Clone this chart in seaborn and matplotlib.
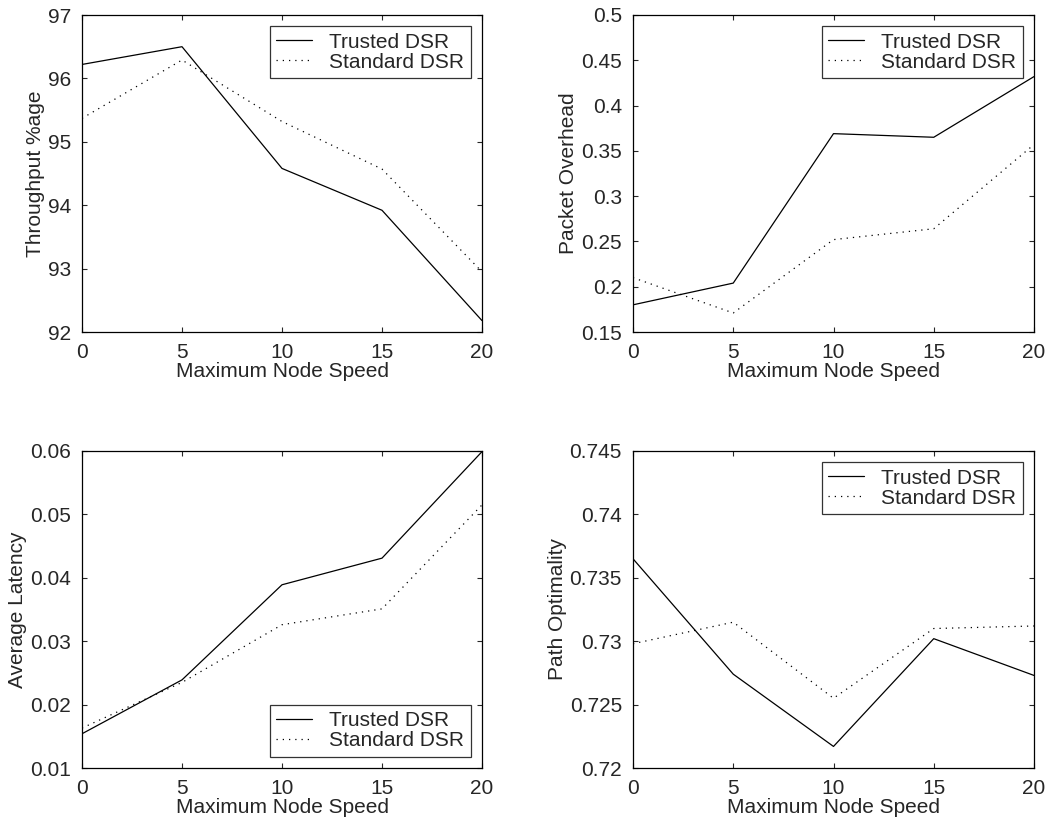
import pandas as pd
import seaborn as sns
import matplotlib.pyplot as plt

speed = [0, 5, 10, 15, 20]

throughput_trusted = [96.22, 96.5, 94.58, 93.92, 92.18]
throughput_standard = [95.37, 96.29, 95.32, 94.57, 92.95]

overhead_trusted = [0.180, 0.204, 0.369, 0.365, 0.432]
overhead_standard = [0.210, 0.171, 0.252, 0.264, 0.357]

latency_trusted = [0.0154, 0.0239, 0.0389, 0.0431, 0.0599]
latency_standard = [0.0163, 0.0235, 0.0326, 0.0351, 0.0515]

optimality_trusted = [0.7365, 0.7274, 0.7217, 0.7302, 0.7273]
optimality_standard = [0.7298, 0.7315, 0.7255, 0.7310, 0.7312]

series_names = ["Trusted DSR", "Standard DSR"]

sns.set_style("ticks")
plt.rcParams["font.family"] = ["Liberation Sans", "DejaVu Sans"]
fs = 15

fig = plt.figure(figsize=(10.52, 8.23), dpi=100)

panels = [
    # trusted, standard, ylabel, ylim, yticks, legend loc, axes rect (pixels -> fractions)
    (throughput_trusted, throughput_standard, "Throughput %age", (92, 97),
     [92, 93, 94, 95, 96, 97], "upper right",
     [82 / 1052, 1 - 332 / 823, 400 / 1052, 317 / 823]),
    (overhead_trusted, overhead_standard, "Packet Overhead", (0.15, 0.5),
     [0.15, 0.2, 0.25, 0.3, 0.35, 0.4, 0.45, 0.5], "upper right",
     [633 / 1052, 1 - 332 / 823, 401 / 1052, 317 / 823]),
    (latency_trusted, latency_standard, "Average Latency", (0.01, 0.06),
     [0.01, 0.02, 0.03, 0.04, 0.05, 0.06], "lower right",
     [82 / 1052, 1 - 768 / 823, 400 / 1052, 317 / 823]),
    (optimality_trusted, optimality_standard, "Path Optimality", (0.72, 0.745),
     [0.72, 0.725, 0.73, 0.735, 0.74, 0.745], "upper right",
     [633 / 1052, 1 - 768 / 823, 401 / 1052, 317 / 823]),
]

for trusted, standard, ylabel, ylim, yticks, loc, rect in panels:
    ax = fig.add_axes(rect)
    df = pd.DataFrame({
        "speed": speed * 2,
        "value": trusted + standard,
        "series": [series_names[0]] * 5 + [series_names[1]] * 5,
    })
    sns.lineplot(data=df, x="speed", y="value", hue="series", style="series",
                 palette=["black", "black"],
                 dashes={series_names[0]: "", series_names[1]: (1, 4)},
                 linewidth=0.9, ax=ax)
    ax.set_xlim(0, 20)
    ax.set_ylim(*ylim)
    ax.set_xticks([0, 5, 10, 15, 20])
    ax.set_yticks(yticks)
    ax.set_yticklabels([f"{t:g}" for t in yticks])
    ax.set_xlabel("Maximum Node Speed", fontsize=fs, labelpad=0)
    ax.set_ylabel(ylabel, fontsize=fs, labelpad=2)
    ax.tick_params(direction="in", top=True, right=True, length=3.5, width=0.8,
                   labelsize=fs)
    ax.tick_params(axis="x", pad=8)
    ax.tick_params(axis="y", pad=8)
    for s in ax.spines.values():
        s.set_linewidth(0.9)
        s.set_color("black")
    leg = ax.legend(loc=loc, frameon=True, fancybox=False, fontsize=fs,
                    borderaxespad=0.55, handlelength=1.7, handletextpad=0.85,
                    labelspacing=0.05, borderpad=0.3)
    leg.get_frame().set_edgecolor("black")
    leg.get_frame().set_linewidth(0.9)

fig.savefig("out.png", dpi=100)
